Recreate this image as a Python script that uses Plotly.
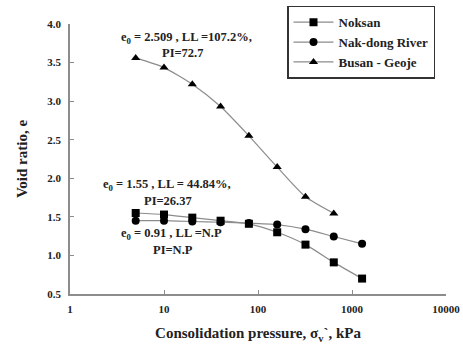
import plotly.graph_objects as go

pressure = [5, 10, 20, 40, 80, 160, 320, 640, 1280]
noksan = [1.55, 1.53, 1.49, 1.45, 1.41, 1.30, 1.14, 0.91, 0.70]
nakdong = [1.45, 1.45, 1.44, 1.43, 1.42, 1.40, 1.34, 1.245, 1.15]
busan_p = [5, 10, 20, 40, 80, 160, 320, 640]
busan = [3.56, 3.435, 3.22, 2.93, 2.55, 2.145, 1.76, 1.545]

FONT = "Liberation Serif"
LINE = "#8c8c8c"

fig = go.Figure()
series = [
    ("Noksan", pressure, noksan, "square"),
    ("Nak-dong River", pressure, nakdong, "circle"),
    ("Busan - Geoje", busan_p, busan, "triangle-up"),
]
for name, xs, ys, sym in series:
    fig.add_trace(go.Scatter(
        x=xs, y=ys, name="<b>%s</b>" % name, mode="lines+markers",
        line=dict(color=LINE, width=1.2, shape="spline", smoothing=0.6),
        marker=dict(symbol=sym, size=8, color="black"),
    ))

annots = [
    (186, 3.82, "e<sub>0</sub> = 2.509 , LL =107.2%,"),
    (182, 3.63, "PI=72.7"),
    (166, 1.907, "e<sub>0</sub> = 1.55 , LL = 44.84%,"),
    (167, 1.712, "PI=26.37"),
    (171, 1.28, "e<sub>0</sub> = 0.91 , LL =N.P"),
    (172, 1.073, "PI=N.P"),
]
for px, yv, txt in annots:
    xlog = (px - 69.5) / 94.0
    fig.add_annotation(x=xlog, y=yv, xref="x", yref="y", text="<b>%s</b>" % txt, showarrow=False,
                       font=dict(family=FONT, size=12.5, color="#222"),
                       xanchor="center", yanchor="middle")

fig.update_layout(
    width=463, height=349,
    margin=dict(l=70, r=17, t=24, b=55, autoexpand=False),
    paper_bgcolor="white", plot_bgcolor="white",
    font=dict(family=FONT, color="#222"),
    showlegend=True,
    legend=dict(x=(287 - 70) / 376, y=1 + (24.3 - 6) / 270,
                xanchor="left", yanchor="top",
                bordercolor="#333", borderwidth=1.5, bgcolor="white",
                font=dict(family=FONT, size=13, color="#222"),
                itemwidth=40, tracegroupgap=0,
                entrywidth=112, entrywidthmode="pixels"),
)
fig.update_xaxes(
    type="log", range=[0, 4], showgrid=False, zeroline=False, automargin=False,
    showline=True, linecolor=LINE, linewidth=1.5,
    ticks="inside", ticklen=4, tickcolor=LINE,
    tickvals=[1, 10, 100, 1000, 10000], ticktext=["<b>1</b>", "<b>10</b>", "<b>100</b>", "<b>1000</b>", "<b>10000</b>"],
    tickfont=dict(family=FONT, size=11, color="#222"),
    ticklabelstandoff=4,
    title=dict(text="<b>Consolidation pressure, σ<sub>v</sub>`, kPa</b>", font=dict(family=FONT, size=15, color="#222"), standoff=14),
)
yvals = [0.5, 1.0, 1.5, 2.0, 2.5, 3.0, 3.5, 4.0]
fig.update_yaxes(
    range=[0.5, 4.0], showgrid=False, zeroline=False, automargin=False,
    showline=True, linecolor=LINE, linewidth=1.5,
    ticks="inside", ticklen=4, tickcolor=LINE,
    tickvals=yvals, ticktext=["<b>%.1f</b>" % v for v in yvals],
    tickfont=dict(family=FONT, size=11, color="#222"),
    ticklabelstandoff=5,
    title=dict(text="<b>Void ratio, e</b>", font=dict(family=FONT, size=15, color="#222"), standoff=16),
)
fig.write_html("out.html", config={"displayModeBar": False},
               post_script="document.body.style.margin='0';")
